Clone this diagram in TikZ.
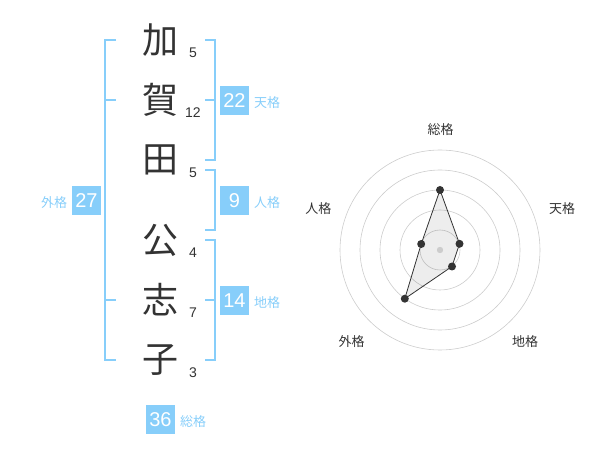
\documentclass[tikz,border=0pt]{standalone}
\usepackage{fontspec}
\setmainfont{Liberation Sans}
\newfontfamily\cjk{Noto Sans CJK JP}
\definecolor{sky}{HTML}{87CEFA}
\definecolor{ink}{HTML}{333333}
\definecolor{ringc}{HTML}{CCCCCC}
\begin{document}
\begin{tikzpicture}[x=1pt,y=-1pt,
  kanji/.style={font=\cjk\fontsize{36}{36}\selectfont, text=ink, inner sep=0},
  strokes/.style={font=\fontsize{14}{14}\selectfont, text=ink, inner sep=0},
  valbox/.style={fill=sky, text=white, minimum width=29pt, minimum height=29pt, inner sep=0, font=\fontsize{20}{20}\selectfont},
  cat/.style={font=\cjk\fontsize{13}{13}\selectfont, text=sky, inner sep=0, anchor=west},
  bracket/.style={draw=sky, line width=2pt},
  axislbl/.style={font=\cjk\fontsize{13}{13}\selectfont, text=ink, inner sep=0},
  ringline/.style={draw=ringc, line width=0.6pt},
  dot/.style={circle, fill=ink, inner sep=0, minimum size=8pt}]
\useasboundingbox (0,0) rectangle (600,470);
% brackets
\draw[bracket] (116,40) -- (105,40) -- (105,360) -- (116,360);
\draw[bracket] (105,100) -- (116,100);
\draw[bracket] (105,300) -- (116,300);
\draw[bracket] (205,40) -- (215,40) -- (215,160) -- (205,160);
\draw[bracket] (205,100) -- (215,100);
\draw[bracket] (205,170) -- (215,170) -- (215,230) -- (205,230);
\draw[bracket] (205,240) -- (215,240) -- (215,360) -- (205,360);
\draw[bracket] (205,300) -- (215,300);
% characters
\node[kanji] (c1) at (160,40) {加};
\node[kanji] (c2) at (160,100) {賀};
\node[kanji] (c3) at (160,160) {田};
\node[kanji] (c4) at (160,240) {公};
\node[kanji] (c5) at (160,300) {志};
\node[kanji] (c6) at (160,360) {子};
\node[strokes] (s1) at (193,52.5) {5};
\node[strokes] (s2) at (193,113) {12};
\node[strokes] (s3) at (193,172.5) {5};
\node[strokes] (s4) at (193,252.7) {4};
\node[strokes] (s5) at (193,313) {7};
\node[strokes] (s6) at (193,373) {3};
% value boxes
\node[valbox] (ten) at (234.5,100.5) {22};
\node[valbox] (jin) at (234.5,200.5) {9};
\node[valbox] (chi) at (234.5,300.5) {14};
\node[valbox] (gai) at (86.5,200.5) {27};
\node[valbox] (sou) at (160.5,419.5) {36};
\node[cat] (tenl) at (254,103) {天格};
\node[cat] (jinl) at (254,203) {人格};
\node[cat] (chil) at (254,303) {地格};
\node[cat] (gail) at (41,203) {外格};
\node[cat] (soul) at (180,422) {総格};
% radar
\coordinate (o) at (440,250);
\foreach \r in {20,40,60,80,100} \draw[ringline] (o) circle[radius=\r];
\coordinate (p1) at (440,190);
\coordinate (p2) at (459.5,243.8);
\coordinate (p3) at (452,266.5);
\coordinate (p4) at (404.8,298.7);
\coordinate (p5) at (421.2,244);
\fill[black, fill opacity=0.07] (p1) -- (p2) -- (p3) -- (p4) -- (p5) -- cycle;
\fill[ringc] (o) circle[radius=3.2];
\draw[ink, line width=0.8pt] (p1) -- (p2) -- (p3) -- (p4) -- (p5) -- cycle;
\foreach \p in {p1,p2,p3,p4,p5} \node[dot] at (\p) {};
\node[axislbl] (a1) at (440.5,130) {総格};
\node[axislbl] (a2) at (562,208.5) {天格};
\node[axislbl] (a3) at (525,341.7) {地格};
\node[axislbl] (a4) at (351.7,341.7) {外格};
\node[axislbl] (a5) at (318.3,208.5) {人格};
\end{tikzpicture}
\end{document}
